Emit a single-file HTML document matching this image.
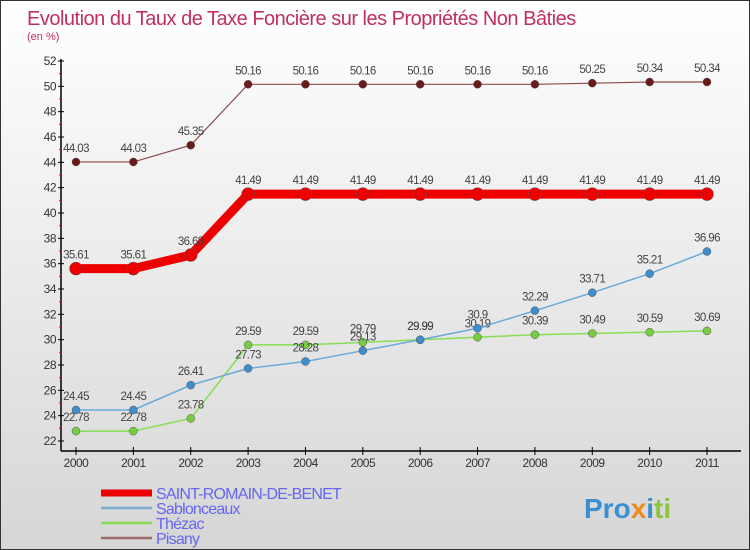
<!DOCTYPE html>
<html><head><meta charset="utf-8"><style>
body{margin:0;}
#wrap{width:748px;height:548px;border:1px solid #333;background:linear-gradient(#ffffff,#d6d6d6);position:relative;font-family:"Liberation Sans",sans-serif;overflow:hidden}
svg text{font-family:"Liberation Sans",sans-serif;}
</style></head><body>
<div id="wrap">
<svg id="chart" width="748" height="548">
<text x="26" y="24" font-size="20" fill="#c0305f" letter-spacing="-0.5">Evolution du Taux de Taxe Foncière sur les Propriétés Non Bâties</text>
<text x="26" y="39" font-size="11" fill="#c0305f">(en %)</text>
<g id="axes"></g>
<g id="series"></g>
<g id="legend"></g>
<text x="583" y="517" font-size="28" font-weight="bold"><tspan fill="#3a8fd0">Pro</tspan><tspan fill="#f08a1a">x</tspan><tspan fill="#3a8fd0">i</tspan><tspan fill="#8cc63f">ti</tspan></text>
</svg>
</div>
<script>
const years=["2000","2001","2002","2003","2004","2005","2006","2007","2008","2009","2010","2011"];
const yTicks=[22,24,26,28,30,32,34,36,38,40,42,44,46,48,50,52];
const pisany=[44.03,44.03,45.35,50.16,50.16,50.16,50.16,50.16,50.16,50.25,50.34,50.34];
const saint=[35.61,35.61,36.68,41.49,41.49,41.49,41.49,41.49,41.49,41.49,41.49,41.49];
const sablon=[24.45,24.45,26.41,27.73,28.28,29.13,29.99,30.9,32.29,33.71,35.21,36.96];
const thezac=[22.78,22.78,23.78,29.59,29.59,29.79,29.99,30.19,30.39,30.49,30.59,30.69];
const seriesNames=["SAINT-ROMAIN-DE-BENET","Sablonceaux","Thézac","Pisany"];
const NS="http://www.w3.org/2000/svg";
const x=i=>75+i*(706-75)/11;
const y=v=>440-(v-22)*(380/30);
function mk(tag,attrs,parent){const e=document.createElementNS(NS,tag);for(const k in attrs)e.setAttribute(k,attrs[k]);parent.appendChild(e);return e;}
const ax=document.getElementById('axes');
let l=mk('line',{x1:60,y1:58,x2:60,y2:450,stroke:'#000','stroke-width':1.5},ax);


l=mk('line',{x1:60,y1:450,x2:740,y2:450,stroke:'#000','stroke-width':1.5},ax);


yTicks.forEach(v=>{
 mk('line',{x1:57,y1:y(v),x2:63,y2:y(v),stroke:'#000'},ax);
 if(v<52) mk('line',{x1:58,y1:y(v+1),x2:61,y2:y(v+1),stroke:'#e00'},ax);
 const t=mk('text',{x:55,y:y(v)+4,'font-size':12,'text-anchor':'end',fill:'#333','letter-spacing':'-0.5'},ax);
 t.textContent=v;
 
 
});
years.forEach((yr,i)=>{
 mk('line',{x1:x(i),y1:446,x2:x(i),y2:454,stroke:'#000'},ax);
 const t=mk('text',{x:x(i),y:466,'font-size':12,'text-anchor':'middle',fill:'#333','letter-spacing':'-0.5'},ax);
 t.textContent=yr;
 
 
});
const sg=document.getElementById('series');
function draw(data,color,w,r,ptColor,name,labelColor){
 const g=mk('g',{},sg);
 
 
 const p=mk('polyline',{points:data.map((v,i)=>x(i)+','+y(v)).join(' '),fill:'none',stroke:color,'stroke-width':w},g);
 
 
 data.forEach((v,i)=>{
  const c=mk('circle',{cx:x(i),cy:y(v),r:r,fill:ptColor,stroke:'#555','stroke-width':0.5},g);
  
  
  const t=mk('text',{x:x(i),y:y(v)-10,'font-size':11.5,'text-anchor':'middle',fill:'#444','letter-spacing':'-0.6'},g);
  t.textContent=String(v);
  
  
 });
}
draw(thezac,'#88dd55',1.5,4,'#77cc44','thezac');
draw(sablon,'#6aaad8',1.5,4,'#3f8ecb','sablonceaux');
draw(pisany,'#8a4a4a',1.2,4,'#6b1a1a','pisany');
draw(saint,'#ee0000',9,6.5,'#ee0000','saint-romain');
const lg=document.getElementById('legend');
const lcol=['#ee0000','#7aaed0','#88dd55','#a06a6a'];
const lw=[7,2.5,2.5,2.5];
seriesNames.forEach((n,i)=>{
 const yy=492+i*15;
 const g=mk('g',{},lg);
 
 
 mk('line',{x1:100,y1:yy,x2:151,y2:yy,stroke:lcol[i],'stroke-width':lw[i]},g);
 const t=mk('text',{x:155,y:yy+6,'font-size':16,fill:'#6666ee','letter-spacing':'-0.8'},g);
 t.textContent=n;
});
</script>
</body></html>
